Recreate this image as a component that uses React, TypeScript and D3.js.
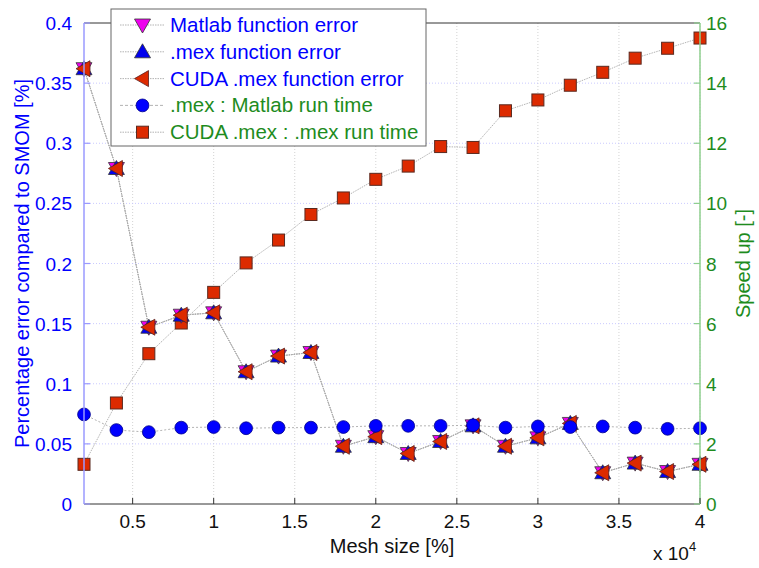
import React from "react";
import * as d3 from "d3";

const meshSize = [2000, 4000, 6000, 8000, 10000, 12000, 14000, 16000, 18000, 20000, 22000, 24000, 26000, 28000, 30000, 32000, 34000, 36000, 38000, 40000];
const matlabError = [0.362, 0.279, 0.147, 0.157, 0.159, 0.110, 0.123, 0.126, 0.048, 0.056, 0.042, 0.052, 0.065, 0.048, 0.055, 0.067, 0.026, 0.034, 0.027, 0.033];
const mexError = [0.362, 0.279, 0.147, 0.157, 0.159, 0.110, 0.123, 0.126, 0.048, 0.056, 0.042, 0.052, 0.065, 0.048, 0.055, 0.067, 0.026, 0.034, 0.027, 0.033];
const cudaError = [0.362, 0.279, 0.147, 0.157, 0.159, 0.110, 0.123, 0.126, 0.048, 0.056, 0.042, 0.052, 0.065, 0.048, 0.055, 0.067, 0.026, 0.034, 0.027, 0.033];
const mexSpeedup = [2.98, 2.46, 2.39, 2.54, 2.56, 2.52, 2.54, 2.54, 2.56, 2.6, 2.6, 2.6, 2.62, 2.54, 2.58, 2.56, 2.58, 2.54, 2.5, 2.52];
const cudaSpeedup = [1.32, 3.36, 5.0, 6.02, 7.04, 8.02, 8.78, 9.63, 10.18, 10.8, 11.24, 11.89, 11.86, 13.08, 13.44, 13.93, 14.36, 14.83, 15.16, 15.5];

const xTicks = [5000, 10000, 15000, 20000, 25000, 30000, 35000, 40000];
const xTickLabels = ["0.5", "1", "1.5", "2", "2.5", "3", "3.5", "4"];
const leftTicks = [0, 0.05, 0.1, 0.15, 0.2, 0.25, 0.3, 0.35, 0.4];
const leftTickLabels = ["0", "0.05", "0.1", "0.15", "0.2", "0.25", "0.3", "0.35", "0.4"];
const rightTicks = [0, 2, 4, 6, 8, 10, 12, 14, 16];
const legendNames = ["Matlab function error", ".mex function error", "CUDA .mex function error", ".mex : Matlab run time", "CUDA .mex : .mex run time"];

const BLUE = "#0000ff";
const GREEN = "#1e8c1e";
const FONT = "'Liberation Sans', Arial, sans-serif";

type MarkerKind = "down" | "up" | "left" | "circle" | "square";

function Marker({ kind, x, y }: { kind: MarkerKind; x: number; y: number }) {
  const s = 8;
  if (kind === "circle") return <circle cx={x} cy={y} r={6.4} fill="#0000ff" stroke="#00008a" strokeWidth={0.8} />;
  if (kind === "square") return <rect x={x - 6} y={y - 6} width={12} height={12} fill="#dd2a00" stroke="#5a2a20" strokeWidth={1} />;
  let pts: [number, number][];
  if (kind === "down") pts = [[x - s, y - s * 0.75], [x + s, y - s * 0.75], [x, y + s]];
  else if (kind === "up") pts = [[x - s, y + s * 0.75], [x + s, y + s * 0.75], [x, y - s]];
  else pts = [[x + s * 0.75, y - s], [x + s * 0.75, y + s], [x - s, y]];
  const fill = kind === "down" ? "#ee00ee" : kind === "up" ? "#0000ee" : "#dd2a00";
  const stroke = kind === "left" ? "#5a2020" : "#333";
  return <polygon points={pts.map((p) => p.join(",")).join(" ")} fill={fill} stroke={stroke} strokeWidth={0.8} />;
}

export default function App() {
  const W = 759, H = 568;
  const L = 84, R = 700, T = 23, B = 504;
  const x = d3.scaleLinear().domain([2000, 40000]).range([L, R]);
  const yL = d3.scaleLinear().domain([0, 0.4]).range([B, T]);
  const yR = d3.scaleLinear().domain([0, 16]).range([B, T]);

  const lineL = d3.line<number>().x((_, i) => x(meshSize[i])).y((d) => yL(d));
  const lineR = d3.line<number>().x((_, i) => x(meshSize[i])).y((d) => yR(d));

  const errSeries: { data: number[]; kind: MarkerKind }[] = [
    { data: matlabError, kind: "down" },
    { data: mexError, kind: "up" },
    { data: cudaError, kind: "left" },
  ];

  const legendKinds: MarkerKind[] = ["down", "up", "left", "circle", "square"];
  const legendColors = [BLUE, BLUE, BLUE, GREEN, GREEN];

  return (
    <svg width={W} height={H} style={{ position: "absolute", left: 0, top: 0, background: "#fff" }} fontFamily={FONT}>
      <rect x={0} y={0} width={W} height={H} fill="#fff" />
      {/* grid */}
      {xTicks.map((t) => (
        <line key={"vg" + t} x1={x(t)} x2={x(t)} y1={T} y2={B} stroke="#c8c8c8" strokeWidth={0.8} strokeDasharray="1,2" />
      ))}
      {leftTicks.slice(1, -1).map((t) => (
        <line key={"hg" + t} x1={L} x2={R} y1={yL(t)} y2={yL(t)} stroke="#c4c4ff" strokeWidth={0.9} strokeDasharray="1,2" />
      ))}

      {/* CUDA speedup */}
      <path d={lineR(cudaSpeedup) || ""} fill="none" stroke="#aaa" strokeWidth={0.9} strokeDasharray="1.5,1" />
      {cudaSpeedup.map((v, i) => (
        <Marker key={"sq" + i} kind="square" x={x(meshSize[i])} y={yR(v)} />
      ))}

      {/* errors */}
      {errSeries.map((s, k) => (
        <path key={"el" + k} d={lineL(s.data) || ""} fill="none" stroke="#aaa" strokeWidth={0.9} strokeDasharray="1.5,1" />
      ))}
      {errSeries.map((s, k) =>
        s.data.map((v, i) => <Marker key={"em" + k + "-" + i} kind={s.kind} x={x(meshSize[i])} y={yL(v)} />)
      )}

      {/* mex speedup */}
      <path d={lineR(mexSpeedup) || ""} fill="none" stroke="#aaa" strokeWidth={0.9} strokeDasharray="2,2" />
      {mexSpeedup.map((v, i) => (
        <Marker key={"ci" + i} kind="circle" x={x(meshSize[i])} y={yR(v)} />
      ))}

      {/* axes frame */}
      <line x1={L} x2={R} y1={T} y2={T} stroke="#333" strokeWidth={1} />
      <line x1={L} x2={R} y1={B} y2={B} stroke="#333" strokeWidth={1} />
      <line x1={L} x2={L} y1={T} y2={B} stroke="#9a9aff" strokeWidth={1.5} />
      <line x1={R} x2={R} y1={T} y2={B} stroke="#8fcf8f" strokeWidth={1.5} />

      {/* x ticks */}
      {xTicks.map((t, i) => (
        <g key={"xt" + t}>
          <line x1={x(t)} x2={x(t)} y1={B} y2={B - 6} stroke="#333" />
          <text x={x(t)} y={528} textAnchor="middle" fontSize={19} fill="#111">{xTickLabels[i]}</text>
        </g>
      ))}
      {/* left ticks */}
      {leftTicks.map((t, i) => (
        <g key={"lt" + t}>
          <line x1={L} x2={L + 6} y1={yL(t)} y2={yL(t)} stroke="#9a9aff" strokeWidth={1.2} />
          <text x={72} y={yL(t) + 7} textAnchor="end" fontSize={19} fill={BLUE}>{leftTickLabels[i]}</text>
        </g>
      ))}
      {/* right ticks */}
      {rightTicks.map((t) => (
        <g key={"rt" + t}>
          <line x1={R} x2={R - 6} y1={yR(t)} y2={yR(t)} stroke="#8fcf8f" strokeWidth={1.2} />
          <text x={706} y={yR(t) + 7} textAnchor="start" fontSize={19} fill={GREEN}>{String(t)}</text>
        </g>
      ))}

      {/* axis labels */}
      <text x={(L + R) / 2} y={553} textAnchor="middle" fontSize={20} fill="#111">Mesh size [%]</text>
      <text x={653} y={560} fontSize={19} fill="#111">x 10<tspan dy={-9} fontSize={13}>4</tspan></text>
      <text transform={`translate(29,${(T + B) / 2}) rotate(-90)`} textAnchor="middle" fontSize={20} fill={BLUE}>Percentage error compared to SMOM [%]</text>
      <text transform={`translate(750,${(T + B) / 2}) rotate(-90)`} textAnchor="middle" fontSize={20} fill={GREEN}>Speed up [-]</text>

      {/* legend */}
      <rect x={111} y={9} width={315} height={137} fill="#fff" stroke="#666" strokeWidth={1} />
      {legendNames.map((name, i) => {
        const ly = 25 + i * 26.8;
        return (
          <g key={"lg" + i}>
            <line x1={120} x2={164} y1={ly} y2={ly} stroke="#aaa" strokeWidth={0.9} strokeDasharray={i === 3 ? "3,2" : "1.5,1"} />
            <Marker kind={legendKinds[i]} x={142.5} y={ly} />
            <text x={170} y={ly + 7} fontSize={20.5} fill={legendColors[i]}>{name}</text>
          </g>
        );
      })}
    </svg>
  );
}
